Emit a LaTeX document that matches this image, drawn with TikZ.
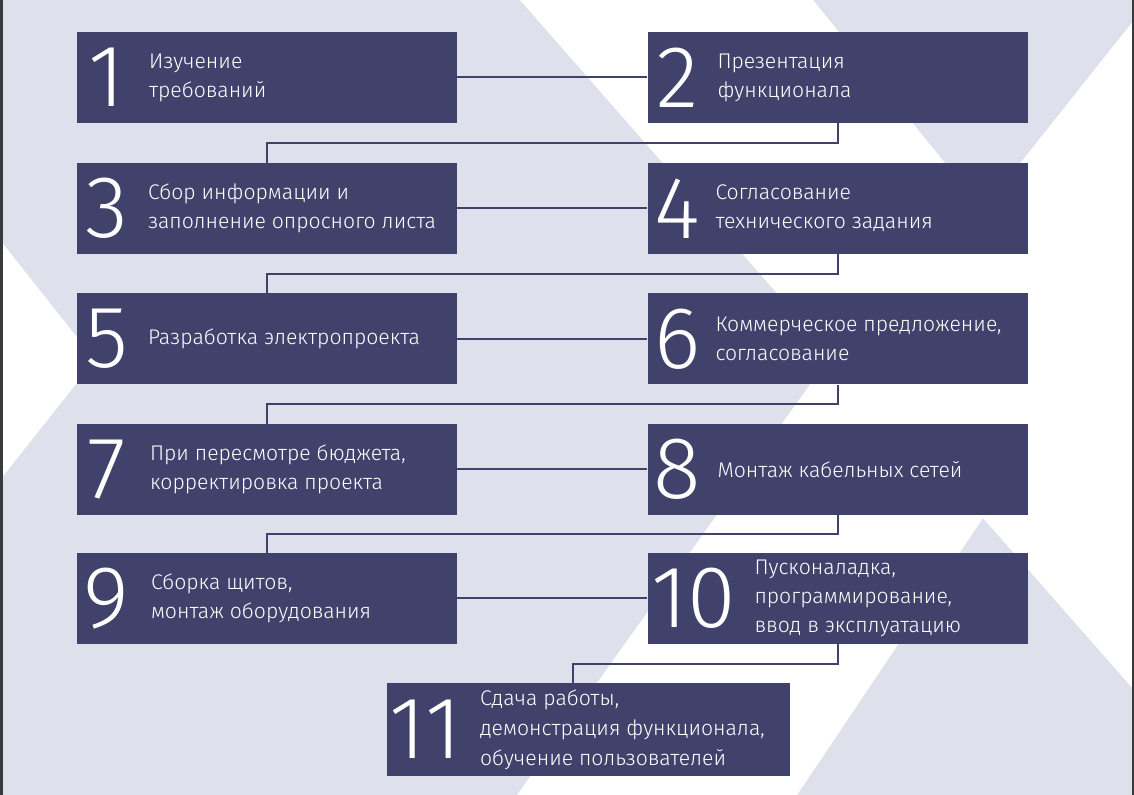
\documentclass[tikz,border=0pt]{standalone}
\usepackage{fontspec}
\setmainfont{Fira Sans Light}
\newfontfamily\numfont{Fira Sans Light}
\usetikzlibrary{positioning,calc}
\definecolor{boxnavy}{RGB}{64,66,107}
\definecolor{bandlilac}{RGB}{222,224,236}
\definecolor{edgegray}{RGB}{58,58,62}

\begin{document}
\begin{tikzpicture}[x=0.5pt, y=-0.5pt,
    stepbox/.style={fill=boxnavy, minimum width=190pt, minimum height=45.5pt, inner sep=0pt},
    stepnum/.style={text=white, inner sep=0pt, font=\numfont\fontsize{44}{44}\selectfont},
    steptext/.style={anchor=west, text=white, align=left, inner sep=0pt, font=\fontsize{10.6}{14.5}\selectfont},
    link/.style={draw=boxnavy, line width=1pt}]
  \useasboundingbox (0,0) rectangle (1134,795);
  % background bands
  \fill[bandlilac] (0,0) rectangle (1134,795);
  \fill[white] (520,0) -- (813,0) -- (983,210) -- (1134,20) -- (1134,690) -- (983,518)
    -- (797,795) -- (517,795) -- (831,355) -- cycle;
  \fill[white] (0,240) -- (95,360) -- (0,480) -- cycle;
  \fill[edgegray] (0,0) rectangle (2.5,795);
  \fill[edgegray] (1131.5,0) rectangle (1134,795);

  % steps
  \node[stepbox] (s1) at (267,77.5) {};
  \node[stepnum] (n1) at ([xshift=15pt]s1.west) {1};
  \node[steptext] (t1) at ([xshift=36pt]s1.west) {Изучение\\требований};

  \node[stepbox] (s2) at (837.5,77.5) {};
  \node[stepnum] (n2) at ([xshift=15pt]s2.west) {2};
  \node[steptext] (t2) at ([xshift=35pt]s2.west) {Презентация\\функционала};

  \node[stepbox] (s3) at (267,208.5) {};
  \node[stepnum] (n3) at ([xshift=15pt]s3.west) {3};
  \node[steptext] (t3) at ([xshift=35.5pt]s3.west) {Сбор информации и\\заполнение опросного листа};

  \node[stepbox] (s4) at (837.5,208.5) {};
  \node[stepnum] (n4) at ([xshift=15pt]s4.west) {4};
  \node[steptext] (t4) at ([xshift=34pt]s4.west) {Согласование\\технического задания};

  \node[stepbox] (s5) at (267,339) {};
  \node[stepnum] (n5) at ([xshift=15pt]s5.west) {5};
  \node[steptext] (t5) at ([xshift=35.5pt]s5.west) {Разработка электропроекта};

  \node[stepbox] (s6) at (837.5,339) {};
  \node[stepnum] (n6) at ([xshift=15pt]s6.west) {6};
  \node[steptext] (t6) at ([xshift=34pt]s6.west) {Коммерческое предложение,\\согласование};

  \node[stepbox] (s7) at (267,469.5) {};
  \node[stepnum] (n7) at ([xshift=15pt]s7.west) {7};
  \node[steptext] (t7) at ([xshift=36.5pt]s7.west) {При пересмотре бюджета,\\корректировка проекта};

  \node[stepbox] (s8) at (837.5,469.5) {};
  \node[stepnum] (n8) at ([xshift=15pt]s8.west) {8};
  \node[steptext] (t8) at ([xshift=35pt]s8.west) {Монтаж кабельных сетей};

  \node[stepbox] (s9) at (267,598.5) {};
  \node[stepnum] (n9) at ([xshift=15pt]s9.west) {9};
  \node[steptext] (t9) at ([xshift=37pt]s9.west) {Сборка щитов,\\монтаж оборудования};

  \node[stepbox] (s10) at (837.5,598.5) {};
  \node[stepnum] (n10) at ([xshift=23.25pt]s10.west) {10};
  \node[steptext] (t10) at ([xshift=53.5pt]s10.west) {Пусконаладка,\\программирование,\\ввод в эксплуатацию};

  \node[stepbox, minimum width=201.5pt, minimum height=46.5pt] (s11) at (588.5,729.5) {};
  \node[stepnum] (n11) at ([xshift=19.5pt]s11.west) {11};
  \node[steptext, font=\fontsize{10.6}{15}\selectfont] (t11) at ([xshift=46.5pt]s11.west) {Сдача работы,\\демонстрация функционала,\\обучение пользователей};

  % connectors
  \draw[link] (s1) -- (s2);
  \draw[link] (s2.south) -- ++(0,20) -| (s3.north);
  \draw[link] (s3) -- (s4);
  \draw[link] (s4.south) -- ++(0,20) -| (s5.north);
  \draw[link] (s5) -- (s6);
  \draw[link] (s6.south) -- ++(0,19.5) -| (s7.north);
  \draw[link] (s7) -- (s8);
  \draw[link] (s8.south) -- ++(0,19) -| (s9.north);
  \draw[link] (s9) -- (s10);
  \draw[link] (s10.south) -- ++(0,19.5) -| ([xshift=-7.75pt]s11.north);
\end{tikzpicture}
\end{document}
